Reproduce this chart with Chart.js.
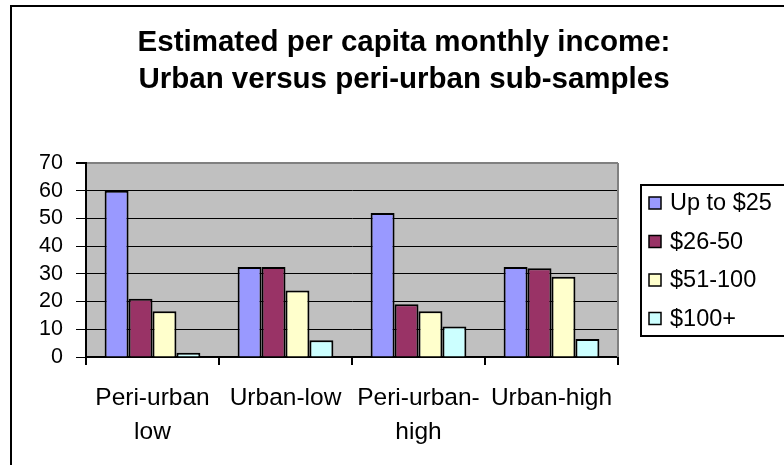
<!DOCTYPE html>
<html>
<head>
<meta charset="utf-8">
<script src="https://cdn.jsdelivr.net/npm/chart.js@4.4.0/dist/chart.umd.min.js"></script>
<style>
html,body{margin:0;padding:0;background:#fff;overflow:hidden}
#chart{display:block}
</style>
</head>
<body>
<canvas id="chart" width="784" height="465"></canvas>
<script>
let categories=[["Peri-urban","low"],"Urban-low",["Peri-urban-","high"],"Urban-high"];
let seriesNames=["Up to $25","$26-50","$51-100","$100+"];
let upTo25=[60,32.5,52,32.5];
let from26to50=[21,32.5,19,32];
let from51to100=[16.5,24,16.5,29];
let over100=[1.5,6,11,6.5];
let yTicks=[0,10,20,30,40,50,60,70];
let colors=["#9999ff","#993366","#ffffcc","#ccffff"];
let titleLines=["Estimated per capita monthly income:","Urban versus peri-urban sub-samples"];

const FONT="'Liberation Sans', Arial, sans-serif";

// background, outer frame, grey plot area and title
const frame={
    id:'frame',
    beforeDraw(c){
        let ctx=c.ctx, a=c.chartArea;
        ctx.save();
        ctx.fillStyle='#fff';
        ctx.fillRect(0,0,c.width,c.height);
        ctx.fillStyle='#c0c0c0';
        ctx.fillRect(a.left,a.top,a.right-a.left,a.bottom-a.top);
        ctx.strokeStyle='#000';ctx.lineWidth=2;
        ctx.beginPath();ctx.moveTo(11,c.height);ctx.lineTo(11,6);ctx.lineTo(c.width,6);ctx.stroke();
        ctx.fillStyle='#000';ctx.font="bold 29.5px "+FONT;
        ctx.textAlign='center';ctx.textBaseline='middle';
        titleLines.forEach((t,i)=>ctx.fillText(t,404,43+i*37));
        ctx.restore();
    },
    afterDraw(c){
        let ctx=c.ctx, a=c.chartArea;
        ctx.save();
        ctx.strokeStyle='#808080';ctx.lineWidth=2;
        ctx.beginPath();ctx.moveTo(a.right,a.top);ctx.lineTo(a.right,a.bottom);ctx.stroke();
        // legend box
        ctx.strokeStyle='#000';ctx.lineWidth=2;
        ctx.strokeRect(641,185,200,151);
        ctx.font="23.5px "+FONT;ctx.textBaseline='middle';ctx.textAlign='left';
        c.data.datasets.forEach((d,i)=>{
            let y=203+i*38.5;
            ctx.fillStyle=d.backgroundColor;
            ctx.fillRect(649,y-6,12,12);
            ctx.lineWidth=1.5;ctx.strokeRect(649,y-6,12,12);
            ctx.fillStyle='#000';
            ctx.fillText(d.label,670,y+1);
        });
        ctx.restore();
    }
};

let seriesData=[upTo25,from26to50,from51to100,over100];

new Chart(document.getElementById('chart'),{
    type:'bar',
    data:{
        labels:categories,
        datasets:seriesData.map((v,i)=>({label:seriesNames[i],data:v,backgroundColor:colors[i],borderColor:'#000',borderWidth:2,categoryPercentage:0.72,barPercentage:1}))
    },
    options:{
        responsive:false,animation:false,devicePixelRatio:1,
        layout:{padding:{top:163,right:166,left:0,bottom:0}},
        plugins:{legend:{display:false},title:{display:false},tooltip:{enabled:false}},
        scales:{
            x:{
                grid:{offset:true,drawOnChartArea:false,tickLength:8,color:'#000',lineWidth:2},
                border:{color:'#000',width:2},
                ticks:{color:'#000',font:{family:FONT,size:24.5,lineHeight:34/24.5},padding:16,maxRotation:0,autoSkip:false},
                afterFit(s){s.height=108;}
            },
            y:{
                min:0,max:70,
                afterBuildTicks(s){s.ticks=yTicks.map(v=>({value:v}));},
                ticks:{color:'#000',font:{family:FONT,size:21.5},padding:13,autoSkip:false},
                grid:{color:t=>t.tick&&t.tick.value===70?'#808080':'#000',lineWidth:t=>t.tick&&t.tick.value===70?2:1,tickColor:'#000',tickLength:10},
                border:{color:'#000',width:2},
                afterFit(s){s.width=86;}
            }
        }
    },
    plugins:[frame]
});
</script>
</body>
</html>
